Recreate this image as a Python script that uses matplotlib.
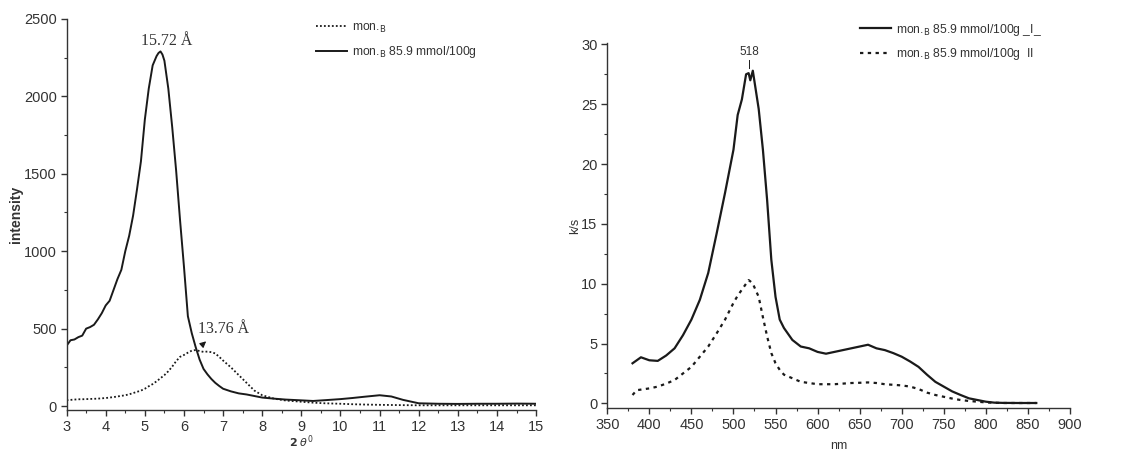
import matplotlib
matplotlib.use("Agg")
import matplotlib.pyplot as plt
from matplotlib.ticker import MultipleLocator

plt.rcParams['font.family'] = ['Liberation Sans', 'DejaVu Sans']

# ---------------- XRD data ----------------
two_theta = [3.0, 3.1, 3.2, 3.3, 3.4, 3.5, 3.6, 3.7, 3.8, 3.9,
             4.0, 4.1, 4.2, 4.3, 4.4, 4.5, 4.6, 4.7, 4.8, 4.9,
             5.0, 5.1, 5.2, 5.3, 5.35, 5.4, 5.45, 5.5, 5.6, 5.7, 5.8, 5.9,
             6.0, 6.1, 6.2, 6.3, 6.4, 6.5, 6.6, 6.7, 6.8, 6.9,
             7.0, 7.2, 7.4, 7.6, 7.8, 8.0, 8.3, 8.6, 9.0, 9.3, 9.6,
             10.0, 10.3, 10.6, 11.0, 11.3, 11.6, 12.0, 12.5, 13.0, 13.5,
             14.0, 14.5, 15.0]
int_859 = [390, 425, 430, 445, 455, 500, 510, 525, 560, 600,
           650, 680, 750, 820, 880, 1000, 1100, 1230, 1400, 1580,
           1850, 2050, 2200, 2260, 2280, 2290, 2270, 2230, 2050, 1800, 1520, 1200,
           900, 580, 470, 380, 300, 240, 205, 175, 150, 130,
           112, 95, 82, 75, 65, 55, 48, 42, 37, 33, 38,
           45, 52, 60, 70, 62, 40, 18, 15, 14, 15,
           15, 16, 15]
int_mon = [38, 40, 42, 44, 44, 45, 46, 47, 48, 50,
           52, 55, 58, 62, 66, 70, 76, 84, 92, 100,
           112, 128, 142, 160, 170, 180, 190, 200, 225, 255, 290, 318,
           330, 345, 358, 362, 355, 350, 352, 348, 340, 318,
           294, 250, 200, 150, 100, 70, 48, 36, 28, 22, 18,
           15, 12, 10, 8, 7, 6, 5, 5, 5, 5,
           5, 5, 5]

# ---------------- PL data ----------------
wavelength = [380, 385, 390, 400, 410, 420, 430, 440, 450, 460, 470, 480,
              490, 500, 505, 510, 515, 518, 520, 523, 530, 535, 540, 545,
              550, 555, 560, 570, 580, 590, 600, 610, 620, 630, 640, 650,
              660, 670, 680, 690, 700, 710, 720, 730, 740, 750, 760, 770,
              780, 790, 800, 810, 820, 840, 860]
ks_I = [3.35, 3.6, 3.85, 3.6, 3.55, 4.0, 4.6, 5.7, 7.0, 8.65, 10.9, 14.2,
        17.6, 21.2, 24.1, 25.4, 27.5, 27.6, 27.0, 27.8, 24.6, 21.2, 17.0, 12.0,
        8.9, 7.0, 6.3, 5.3, 4.75, 4.6, 4.3, 4.15, 4.3, 4.45, 4.6, 4.75,
        4.9, 4.6, 4.45, 4.2, 3.9, 3.5, 3.05, 2.4, 1.8, 1.4, 1.0, 0.7,
        0.42, 0.28, 0.14, 0.06, 0.04, 0.03, 0.03]
ks_II = [0.7, 1.1, 1.15, 1.25, 1.4, 1.65, 1.95, 2.5, 3.05, 3.9, 4.75, 5.85,
         7.0, 8.4, 9.0, 9.5, 10.0, 10.3, 10.2, 10.0, 8.9, 7.2, 5.6, 4.2,
         3.35, 2.8, 2.4, 2.1, 1.8, 1.7, 1.6, 1.6, 1.6, 1.65, 1.7, 1.72,
         1.75, 1.7, 1.6, 1.55, 1.5, 1.4, 1.2, 0.9, 0.7, 0.55, 0.4, 0.28,
         0.2, 0.14, 0.08, 0.05, 0.03, 0.03, 0.03]

fig = plt.figure(figsize=(11.48, 4.5), dpi=100)
ax1 = fig.add_axes([0.058, 0.089, 0.409, 0.869])
ax2 = fig.add_axes([0.529, 0.093, 0.403, 0.811])

col = '#1a1a1a'
tcol = '#333333'
for ax in (ax1, ax2):
    ax.spines['top'].set_visible(False)
    ax.spines['right'].set_visible(False)
    for s in ('left', 'bottom'):
        ax.spines[s].set_color(tcol)
        ax.spines[s].set_linewidth(1.0)
    ax.tick_params(which='major', direction='out', length=4, width=1,
                   labelsize=10.5, colors=tcol, labelcolor=tcol, pad=3)
    ax.tick_params(which='minor', direction='out', length=2.5, width=0.8,
                   colors=tcol)

# left panel
ax1.plot(two_theta, int_mon, linestyle=(0, (1, 1.2)), color=col, lw=1.3,
         label='mon.$_{\\mathrm{B}}$')
ax1.plot(two_theta, int_859, linestyle='-', color=col, lw=1.4,
         label='mon.$_{\\mathrm{B}}$ 85.9 mmol/100g')
ax1.set_xlim(3, 15)
ax1.set_ylim(-25, 2500)
ax1.xaxis.set_major_locator(MultipleLocator(1))
ax1.xaxis.set_minor_locator(MultipleLocator(0.5))
ax1.yaxis.set_major_locator(MultipleLocator(500))
ax1.yaxis.set_minor_locator(MultipleLocator(250))
ax1.set_ylabel('intensity', fontsize=10, fontweight='bold', color=tcol, labelpad=1)
ax1.set_xlabel('$\\mathbf{2}$ $\\theta^{0}$', fontsize=8, color=tcol, labelpad=0)
ax1.text(5.55, 2360, '15.72 Å', family='Liberation Serif', fontsize=11.5,
         ha='center', va='center', color=tcol)
ax1.text(7.02, 500, '13.76 Å', family='Liberation Serif', fontsize=11.5,
         ha='center', va='center', color=tcol)
ax1.annotate('', xy=(6.62, 430), xytext=(6.42, 385),
             arrowprops=dict(arrowstyle='-|>', color=col, lw=0.8,
                             mutation_scale=9))
ax1.legend(loc='upper left', bbox_to_anchor=(0.275, 0.952),
           bbox_transform=fig.transFigure, frameon=False, borderpad=0,
           borderaxespad=0, fontsize=8.7, handlelength=2.6, handletextpad=0.4,
           labelspacing=0.75, labelcolor=tcol)

# right panel
ax2.plot(wavelength, ks_I, linestyle='-', color=col, lw=1.6,
         label='mon.$_{\\mathrm{B}}$ 85.9 mmol/100g _I_')
ax2.plot(wavelength, ks_II, linestyle=(0, (1.5, 2)), color=col, lw=1.6,
         label='mon.$_{\\mathrm{B}}$ 85.9 mmol/100g  II')
ax2.set_xlim(350, 900)
ax2.set_ylim(-0.4, 30.1)
ax2.xaxis.set_major_locator(MultipleLocator(50))
ax2.xaxis.set_minor_locator(MultipleLocator(25))
ax2.yaxis.set_major_locator(MultipleLocator(5))
ax2.yaxis.set_minor_locator(MultipleLocator(2.5))
ax2.set_ylabel('k/s', fontsize=9, color=tcol, labelpad=0)
ax2.set_xlabel('nm', fontsize=9, color=tcol, labelpad=6)
ax2.text(518.5, 29.4, '518', fontsize=8.5, ha='center', va='center', color=tcol)
ax2.plot([518, 518], [28.0, 28.7], color=col, lw=0.7)
ax2.legend(loc='upper left', bbox_to_anchor=(0.749, 0.952),
           bbox_transform=fig.transFigure, frameon=False, borderpad=0,
           borderaxespad=0, fontsize=8.7, handlelength=2.6, handletextpad=0.4,
           labelspacing=0.7, labelcolor=tcol)

fig.savefig('out.png', dpi=100)
